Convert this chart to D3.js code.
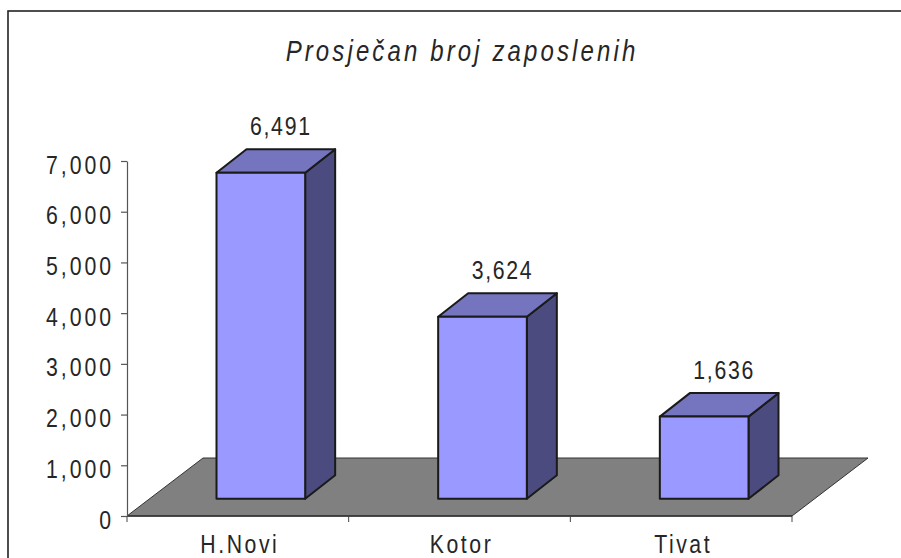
<!DOCTYPE html>
<html>
<head>
<meta charset="utf-8">
<script src="https://cdn.jsdelivr.net/npm/d3@7"></script>
<style>
  body { margin: 0; background: #fff; }
  text { font-family: "Liberation Sans", Arial, sans-serif; fill: #262626; }
</style>
</head>
<body>
<script>
var categories = ["H.Novi", "Kotor", "Tivat"];
var values = [6491, 3624, 1636];
var yTicks = [0, 1000, 2000, 3000, 4000, 5000, 6000, 7000];
var title = "Prosječan broj zaposlenih";

var width = 901,
    height = 558;

var svg = d3.select("body").append("svg")
    .attr("width", width)
    .attr("height", height);

// chart frame (runs off the right and bottom edge)
svg.append("rect")
    .attr("x", 8).attr("y", 11)
    .attr("width", 920).attr("height", 580)
    .attr("fill", "none")
    .attr("stroke", "#222")
    .attr("stroke-width", 1.6);

var sx = 0.85; // glyphs are a bit narrow in the original

svg.append("text")
    .attr("transform", "translate(462,61) scale(0.8,1)")
    .attr("text-anchor", "middle")
    .style("font-size", "30px")
    .style("font-style", "italic")
    .style("letter-spacing", "3.9px")
    .text(title);

// plot geometry
var x0 = 127, x1 = 792, floorY = 516;
var floorDx = 76, floorDy = -58;   // depth of the floor
var barDx = 30, barDy = -23.5;     // depth of a bar
var offDx = (floorDx - barDx) / 2, offDy = (floorDy - barDy) / 2;

var y = d3.scaleLinear().domain([0, 7000]).range([floorY, 161]);
// bars sit further back so they are drawn slightly shorter
var barBase = floorY + offDy;
var yBar = d3.scaleLinear().domain([0, 7000]).range([barBase, barBase - 351.5]);

var x = d3.scaleBand().domain(categories).range([x0, x1]).paddingInner(0).paddingOuter(0);
var bw = x.bandwidth() * 0.4;

// floor
svg.append("path")
    .attr("d", "M" + x0 + "," + floorY +
               "L" + (x0 + floorDx) + "," + (floorY + floorDy) +
               "L" + (x1 + floorDx) + "," + (floorY + floorDy) +
               "L" + x1 + "," + floorY + "Z")
    .attr("fill", "#808080")
    .attr("stroke", "#333")
    .attr("stroke-width", 1);

svg.append("line")
    .attr("x1", x0).attr("x2", x1)
    .attr("y1", floorY).attr("y2", floorY)
    .attr("stroke", "#333").attr("stroke-width", 1.5);

// category ticks
svg.selectAll(".ctick")
    .data(categories.map(function(d) { return x(d) + x.bandwidth(); }).concat([x0]))
  .enter().append("line")
    .attr("x1", function(d) { return d; })
    .attr("x2", function(d) { return d; })
    .attr("y1", floorY).attr("y2", floorY + 6)
    .attr("stroke", "#444").attr("stroke-width", 1);

// y axis
var yAxis = d3.axisLeft(y)
    .tickValues(yTicks)
    .tickFormat(d3.format(","))
    .tickSize(6)
    .tickSizeOuter(0);

var gy = svg.append("g")
    .attr("transform", "translate(" + x0 + ",0)")
    .call(yAxis);

gy.select(".domain").attr("stroke", "#555").attr("stroke-width", 1.2);
gy.selectAll(".tick line").attr("stroke", "#555").attr("stroke-width", 1.2);
gy.selectAll(".tick text")
    .attr("x", null).attr("dy", null)
    .attr("transform", "translate(-13,12) scale(" + sx + ",1)")
    .attr("text-anchor", "end")
    .style("font-size", "25px")
    .style("letter-spacing", "3.5px")
    .style("font-family", "'Liberation Sans', Arial, sans-serif")
    .attr("fill", "#262626");

// bars
var bars = svg.selectAll(".bar")
    .data(values)
  .enter().append("g")
    .attr("class", "bar");

function fx(d, i) { return x(categories[i]) + x.bandwidth() / 2 + offDx - bw / 2; }

bars.append("path") // right side
    .attr("d", function(d, i) {
      var l = fx(d, i) + bw, t = yBar(d);
      return "M" + l + "," + barBase + "L" + (l + barDx) + "," + (barBase + barDy) +
             "L" + (l + barDx) + "," + (t + barDy) + "L" + l + "," + t + "Z";
    })
    .attr("fill", "#4B4B7F");

bars.append("path") // top
    .attr("d", function(d, i) {
      var l = fx(d, i), t = yBar(d);
      return "M" + l + "," + t + "L" + (l + barDx) + "," + (t + barDy) +
             "L" + (l + bw + barDx) + "," + (t + barDy) + "L" + (l + bw) + "," + t + "Z";
    })
    .attr("fill", "#7575BF");

bars.append("rect") // front
    .attr("x", fx)
    .attr("y", function(d) { return yBar(d); })
    .attr("width", bw)
    .attr("height", function(d) { return barBase - yBar(d); })
    .attr("fill", "#9999FF");

bars.selectAll("path, rect")
    .attr("stroke", "#1a1a1a")
    .attr("stroke-width", 2)
    .attr("stroke-linejoin", "round");

// value labels
bars.append("text")
    .attr("transform", function(d, i) {
      return "translate(" + (fx(d, i) + bw / 2 + barDx / 2 + 5) + "," + (yBar(d) + barDy - 14) + ") scale(" + sx + ",1)";
    })
    .attr("text-anchor", "middle")
    .style("font-size", "25px")
    .style("letter-spacing", "2px")
    .text(function(d) { return d3.format(",")(d); });

// category labels
svg.selectAll(".clabel")
    .data(categories)
  .enter().append("text")
    .attr("transform", function(d) {
      return "translate(" + (x(d) + x.bandwidth() / 2 + 2) + ",553) scale(" + sx + ",1)";
    })
    .attr("text-anchor", "middle")
    .style("font-size", "25px")
    .style("letter-spacing", "3px")
    .text(function(d) { return d; });
</script>
</body>
</html>
